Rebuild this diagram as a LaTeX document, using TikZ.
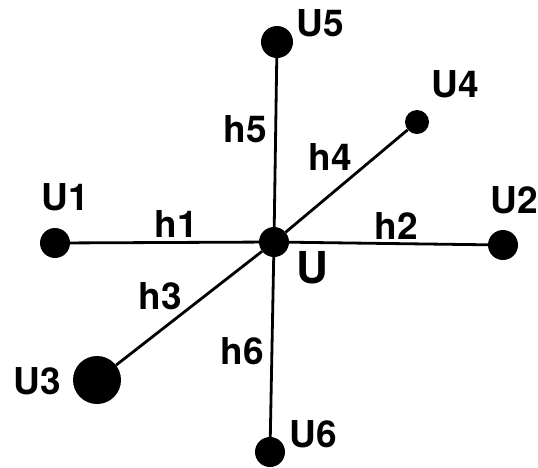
\documentclass[tikz,border=0pt]{standalone}
\usepackage{fontspec}
\setmainfont{TeX Gyre Heros}
\begin{document}
\begin{tikzpicture}[x=1pt,y=-1pt,
    dot/.style={circle, fill=black, inner sep=0pt},
    edge/.style={line width=2.8pt},
    lbl/.style={font=\bfseries\fontsize{37}{37}\selectfont, inner sep=0pt}]
  \useasboundingbox (0,0) rectangle (538,467);
  % units
  \node[dot, minimum size=30pt] (U)  at (274,242) {};
  \node[dot, minimum size=30pt] (U1) at (55,243) {};
  \node[dot, minimum size=30pt] (U2) at (503,245) {};
  \node[dot, minimum size=48pt] (U3) at (97,380) {};
  \node[dot, minimum size=24pt] (U4) at (417,122) {};
  \node[dot, minimum size=32pt] (U5) at (277,42) {};
  \node[dot, minimum size=30pt] (U6) at (270,452) {};
  % connections
  \draw[edge] (U1) -- (U);
  \draw[edge] (U) -- (U2);
  \draw[edge] (U3) -- (U);
  \draw[edge] (U) -- (U4);
  \draw[edge] (U5) -- (U);
  \draw[edge] (U) -- (U6);
  % labels
  \node[lbl] (tU1) at (65,197) {U1};
  \node[lbl] (tU2) at (514,200) {U2};
  \node[lbl] (tU3) at (37,381) {U3};
  \node[lbl] (tU4) at (455,84) {U4};
  \node[lbl] (tU5) at (320,23) {U5};
  \node[lbl] (tU6) at (313,434) {U6};
  \node[lbl, font=\bfseries\fontsize{44}{44}\selectfont] (tU) at (312,268) {U};
  \node[lbl] (th1) at (176,224) {h1};
  \node[lbl] (th2) at (396,226) {h2};
  \node[lbl] (th3) at (160,296) {h3};
  \node[lbl] (th4) at (330,157) {h4};
  \node[lbl] (th5) at (245,129) {h5};
  \node[lbl] (th6) at (242,351) {h6};
\end{tikzpicture}
\end{document}
